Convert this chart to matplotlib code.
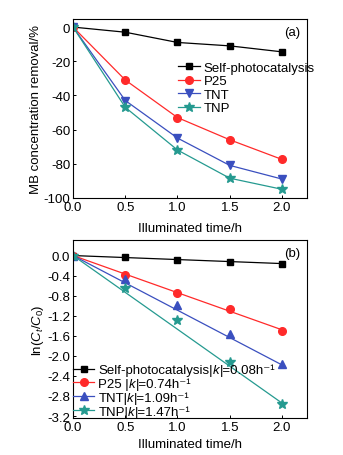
import matplotlib
matplotlib.use("Agg")
import matplotlib.pyplot as plt
import numpy as np
from matplotlib.lines import Line2D
from matplotlib.transforms import IdentityTransform

plt.rcParams['font.family'] = ['Liberation Sans', 'DejaVu Sans']
plt.rcParams['mathtext.fontset'] = 'custom'
plt.rcParams['mathtext.rm'] = 'Liberation Sans'
plt.rcParams['mathtext.it'] = 'Liberation Sans:italic'
plt.rcParams['mathtext.default'] = 'regular'
plt.rcParams['axes.unicode_minus'] = False

time_h = [0.0, 0.5, 1.0, 1.5, 2.0]
series = ['Self-photocatalysis', 'P25', 'TNT', 'TNP']
removal_self = [0, -3, -9, -11, -14.5]
removal_p25 = [0, -31, -53, -66, -77.5]
removal_tnt = [0, -43, -65, -81, -89]
removal_tnp = [0, -47, -72, -88.5, -95]

ln_self = [0, -0.03, -0.09, -0.12, -0.16]
ln_p25 = [0, -0.38, -0.75, -1.07, -1.50]
ln_tnt = [0, -0.46, -0.99, -1.56, -2.17]
ln_tnp = [0, -0.64, -1.28, -2.13, -2.95]
k_values = [0.08, 0.74, 1.09, 1.47]
legend_prefix_b = ['Self-photocatalysis|', 'P25 |', 'TNT|', 'TNP|']

colors = ['black', '#ff2a2a', '#3a4fbf', '#259a90']
markers_a = ['s', 'o', 'v', '*']
markers_b = ['s', 'o', '^', '*']
msizes = [4.5, 5.5, 5.5, 7]
FS = 9.5

fig = plt.figure(figsize=(3.43, 4.56), dpi=100)
ax1 = fig.add_axes([0.213, 0.564, 0.682, 0.392])
ax2 = fig.add_axes([0.213, 0.081, 0.682, 0.3905])

for vals, c, m, ms, lab in zip([removal_self, removal_p25, removal_tnt, removal_tnp],
                               colors, markers_a, msizes, series):
    ax1.plot(time_h, vals, color=c, marker=m, ms=ms, lw=0.9, label=lab)
ax1.set_xlim(0, 2.24)
ax1.set_ylim(-100, 4.7)
ax1.set_xticks([0, 0.5, 1.0, 1.5, 2.0])
ax1.set_xticklabels(['0.0', '0.5', '1.0', '1.5', '2.0'])
ax1.set_yticks([0, -20, -40, -60, -80, -100])
ax1.set_xlabel('Illuminated time/h', fontsize=FS, labelpad=7)
ax1.set_ylabel('MB concentration removal/%', fontsize=FS, labelpad=1)
ax1.text(0.97, 0.96, '(a)', transform=ax1.transAxes, ha='right', va='top', fontsize=FS)
ax1.legend(loc='upper left', bbox_to_anchor=(0.445, 0.77), frameon=False, fontsize=FS,
           handlelength=1.6, handletextpad=0.3, labelspacing=0.1, borderpad=0.1,
           borderaxespad=0)

lnvals = [ln_self, ln_p25, ln_tnt, ln_tnp]
tfit = np.array([0.0, 2.0])
for vals, k, c, m, ms in zip(lnvals, k_values, colors, markers_b, msizes):
    ax2.plot(time_h, vals, color=c, marker=m, ms=ms, lw=0)
    ax2.plot(tfit, -k * tfit, color=c, lw=0.9)
handles = [Line2D([], [], color=c, marker=m, ms=ms, lw=0.9)
           for c, m, ms in zip(colors, markers_b, msizes)]
leg_b = ax2.legend(handles, legend_prefix_b, loc='lower left', bbox_to_anchor=(-0.005, -0.005),
                   frameon=False, fontsize=FS, handlelength=1.6, handletextpad=0.3,
                   labelspacing=0.12, borderpad=0.1, borderaxespad=0)
ax2.set_xlim(0, 2.24)
ax2.set_ylim(-3.24, 0.31)
ax2.set_xticks([0, 0.5, 1.0, 1.5, 2.0])
ax2.set_xticklabels(['0.0', '0.5', '1.0', '1.5', '2.0'])
ax2.set_yticks([0.0, -0.4, -0.8, -1.2, -1.6, -2.0, -2.4, -2.8, -3.2])
ax2.set_yticklabels(['0.0', '-0.4', '-0.8', '-1.2', '-1.6', '-2.0', '-2.4', '-2.8', '-3.2'])
ax2.set_xlabel('Illuminated time/h', fontsize=FS, labelpad=4)
ax2.set_ylabel(r'ln($\mathit{C_t}$/$\mathit{C}_0$)', fontsize=FS, labelpad=1)
ax2.text(0.97, 0.96, '(b)', transform=ax2.transAxes, ha='right', va='top', fontsize=FS)

for ax in (ax1, ax2):
    ax.tick_params(direction='in', length=2.5, width=0.7, labelsize=FS, pad=2)
    for s in ax.spines.values():
        s.set_linewidth(0.8)

# complete legend (b) labels: italic k followed by the rate constant
fig.canvas.draw()
renderer = fig.canvas.get_renderer()
for t, k in zip(leg_b.get_texts(), k_values):
    bb = t.get_window_extent(renderer)
    tk = fig.text(bb.x1, bb.y0, 'k', fontsize=FS, fontstyle='italic',
                  transform=IdentityTransform(), ha='left', va='bottom')
    fig.canvas.draw()
    kb = tk.get_window_extent(renderer)
    fig.text(kb.x1, bb.y0, '|=%.2fh\u207b\u00b9' % k, fontsize=FS,
             transform=IdentityTransform(), ha='left', va='bottom')

fig.savefig('out.png', dpi=100)
